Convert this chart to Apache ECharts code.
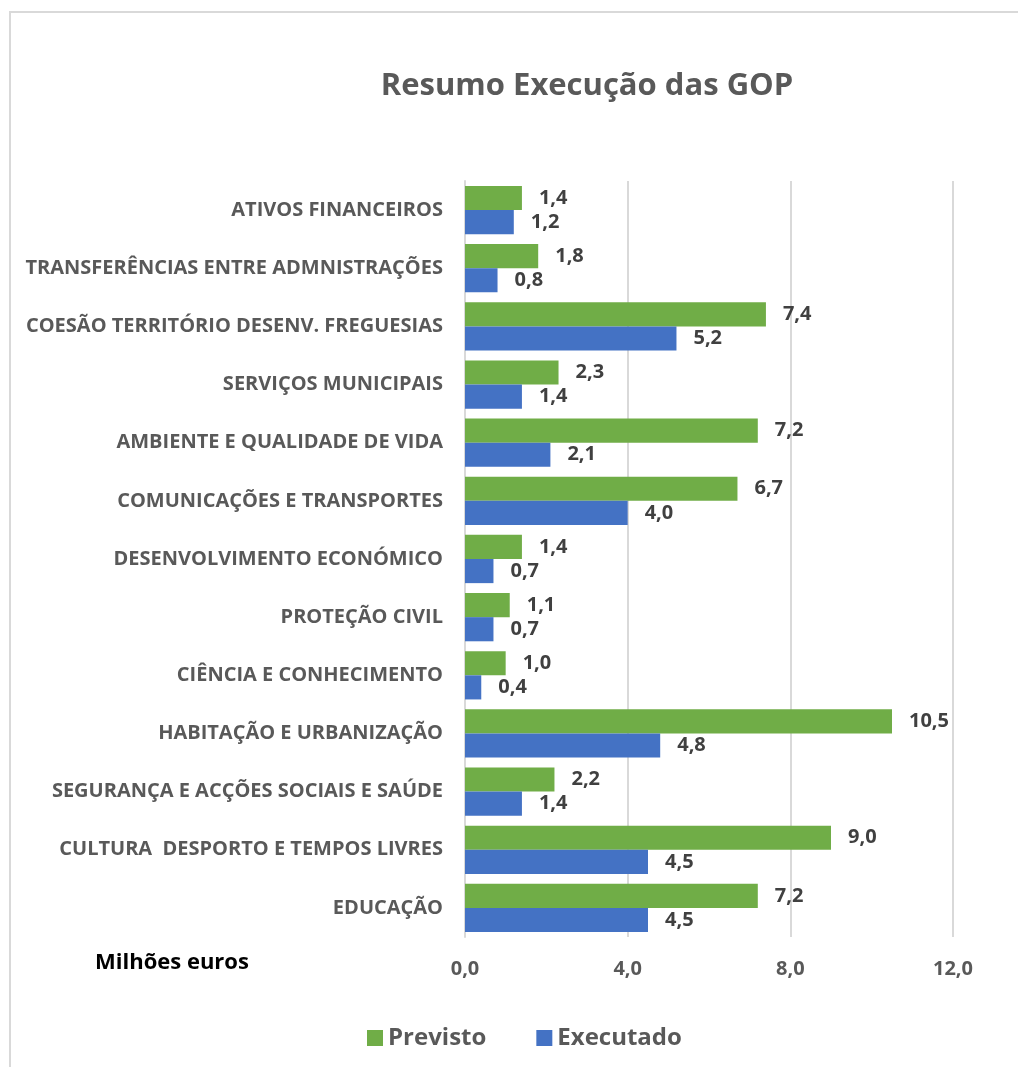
<!doctype html>
<html>
<head>
<meta charset="utf-8">
<title>Resumo Execução das GOP</title>
<script src="https://cdn.jsdelivr.net/npm/echarts@6/dist/echarts.min.js"></script>
<style>
  html, body { margin: 0; padding: 0; background: #fff; }
  #chart { width: 1018px; height: 1067px; }
</style>
</head>
<body>
<div id="chart"></div>
<script>
// categorias de cima para baixo
var categorias = [
  'ATIVOS FINANCEIROS',
  'TRANSFERÊNCIAS ENTRE ADMNISTRAÇÕES',
  'COESÃO TERRITÓRIO DESENV. FREGUESIAS',
  'SERVIÇOS MUNICIPAIS',
  'AMBIENTE E QUALIDADE DE VIDA',
  'COMUNICAÇÕES E TRANSPORTES',
  'DESENVOLVIMENTO ECONÓMICO',
  'PROTEÇÃO CIVIL',
  'CIÊNCIA E CONHECIMENTO',
  'HABITAÇÃO E URBANIZAÇÃO',
  'SEGURANÇA E ACÇÕES SOCIAIS E SAÚDE',
  'CULTURA  DESPORTO E TEMPOS LIVRES',
  'EDUCAÇÃO'
];
var previsto   = [1.4, 1.8, 7.4, 2.3, 7.2, 6.7, 1.4, 1.1, 1.0, 10.5, 2.2, 9.0, 7.2];
var executado  = [1.2, 0.8, 5.2, 1.4, 2.1, 4.0, 0.7, 0.7, 0.4, 4.8, 1.4, 4.5, 4.5];
var ticksX = [0, 4, 8, 12];

var fonte = '"Open Sans", "DejaVu Sans", sans-serif';
function virgula(v) { return Number(v).toFixed(1).replace('.', ','); }

var myChart = echarts.init(document.getElementById('chart'));
var option = {
  backgroundColor: '#fff',
  animation: false,
  textStyle: { fontFamily: fonte },
  title: {
    text: 'Resumo Execução das GOP',
    left: 582, top: 66, textAlign: 'center',
    textStyle: { fontSize: 31, fontWeight: 'bold', color: '#595959', fontFamily: fonte }
  },
  legend: {
    data: ['Previsto', 'Executado'],
    left: 362, top: 1021,
    itemWidth: 16, itemHeight: 16, itemGap: 50,
    icon: 'rect',
    textStyle: { fontSize: 24, fontWeight: 'bold', color: '#595959', fontFamily: fonte }
  },
  grid: { left: 465, right: 65, top: 181, bottom: 130 },
  xAxis: {
    type: 'value', min: 0, max: ticksX[ticksX.length - 1], interval: 4,
    axisLine: { show: false }, axisTick: { show: false },
    splitLine: { lineStyle: { color: '#d9d9d9', width: 2 } },
    axisLabel: {
      margin: 22, fontSize: 20, fontWeight: 'bold', color: '#595959',
      formatter: function (v) { return virgula(v); }
    }
  },
  yAxis: {
    type: 'category', data: categorias, inverse: true,
    axisLine: { lineStyle: { color: '#d9d9d9', width: 2 } },
    axisTick: { show: false },
    axisLabel: { margin: 22, fontSize: 20, fontWeight: 'bold', color: '#595959' }
  },
  series: [
    {
      name: 'Previsto', type: 'bar', data: previsto,
      barGap: '0%', barCategoryGap: '17%',
      itemStyle: { color: '#70ad47' },
      label: { show: true, position: 'right', distance: 17, fontSize: 20, fontWeight: 'bold', color: '#404040',
        formatter: function (p) { return virgula(p.value); } }
    },
    {
      name: 'Executado', type: 'bar', data: executado,
      barGap: '0%', barCategoryGap: '17%',
      itemStyle: { color: '#4472c4' },
      label: { show: true, position: 'right', distance: 17, fontSize: 20, fontWeight: 'bold', color: '#404040',
        formatter: function (p) { return virgula(p.value); } }
    }
  ],
  graphic: [
    { type: 'rect', shape: { x: 10, y: 12, width: 1100, height: 1100 },
      style: { fill: 'none', stroke: '#d9d9d9', lineWidth: 2 }, z: -1 },
    { type: 'text', left: 95, top: 952,
      style: { text: 'Milhões euros', font: 'bold 22px ' + fonte, fill: '#000' } }
  ]
};
myChart.setOption(option);
</script>
</body>
</html>
